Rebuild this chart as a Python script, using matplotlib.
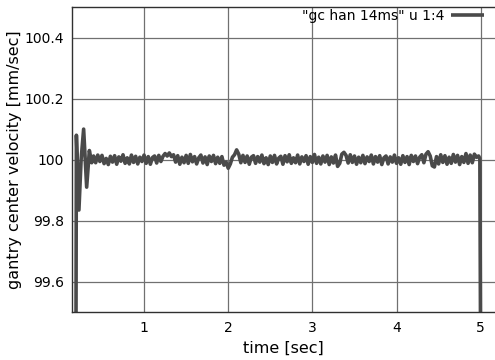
import matplotlib

matplotlib.use("Agg")

import matplotlib.pyplot as plt
import numpy as np

# start-up transient (sec, mm/sec)
start_t = [0.190, 0.196, 0.226, 0.252, 0.282, 0.318, 0.350, 0.378]
start_v = [99.30, 100.080, 99.835, 100.000, 100.100, 99.910, 100.030, 99.990]

# steady running: deviation from 100 mm/sec in 0.001 mm/sec,
# one reading every 25 ms starting at 0.40 s
steady_t0 = 0.40
steady_dt = 0.025
steady_dev = [
    12, -10, 15, -6, 14, -13, 4, -16, 11, -8, 13, -15, 9, -5, 16, -12, 6, -14, 15, -9,
    11, -14, 8, -6, 15, -12, 10, -15, 7, 12, -11, 14, -6, 11, 20, 12, 22, 10, 16, -8,
    13, -15, 8, -10, 14, -12, 17, -7, 10, -14, 6, 15, -11, 9, -16, 12, -6, 14, -13, 8,
    -12, 10, -18, -8, -28, -14, 8, 16, 32, 18, -10, 14, -9, 12, -15, 8, 13, -12, 10, -8,
    15, -13, 6, -16, 12, -9, 14, -14, 5, 11, -15, 13, -7, 16, -12, 6, -10, 15, -14, 9,
    -6, 13, -15, 10, -9, 17, -12, 8, -14, 12, -8, 14, -16, 9, -11, 15, -22, -12, 18, 24,
    14, -11, 16, -9, 12, -15, 8, -10, 14, -13, 9, -6, 15, -14, 10, -8, 13, -16, 6, 12,
    -14, 9, -8, 15, -12, 6, -15, 13, -9, 10, -16, 14, -6, 12, -13, 8, 16, -10, 18, 26,
    12, -20, -24, 10, -14, 16, -9, 13, -15, 8, -12, 17, -8, 14, -16, 10, -9, 20, -12, 15,
    -10, 18, 8, 12,
]

# stop at 5 s
stop_t = [4.990, 5.000]
stop_v = [100.004, 99.30]

x_ticks = [1, 2, 3, 4, 5]
y_ticks = [99.6, 99.8, 100.0, 100.2, 100.4]
y_tick_labels = ["99.6", "99.8", "100", "100.2", "100.4"]

LINE_COLOR = "#4a4a4a"
GRID_COLOR = "#707070"

steady_t = steady_t0 + steady_dt * np.arange(len(steady_dev))
steady_v = 100.0 + np.array(steady_dev) / 1000.0
t = np.concatenate([start_t, steady_t, stop_t])
v = np.concatenate([start_v, steady_v, stop_v])

plt.rcParams["font.family"] = ["DejaVu Sans"]

fig = plt.figure(figsize=(4.95, 3.6), dpi=100)
ax = fig.add_axes([0.146, 0.1325, 0.854, 0.848])

ax.plot(t, v, color=LINE_COLOR, lw=2.6, solid_joinstyle="round",
        solid_capstyle="butt", label='"gc han 14ms" u 1:4')

ax.set_xlim(0.147, 5.17)
ax.set_ylim(99.5, 100.5)
ax.set_xticks(x_ticks)
ax.set_xticklabels([str(x) for x in x_ticks])
ax.set_yticks(y_ticks)
ax.set_yticklabels(y_tick_labels)
ax.grid(True, color=GRID_COLOR, lw=0.9)
ax.set_axisbelow(True)
ax.tick_params(length=0, labelsize=10, colors="black")
ax.tick_params(axis="y", pad=6)
ax.tick_params(axis="x", pad=6)

for side in ("left", "bottom", "top"):
    ax.spines[side].set_color("#303030")
    ax.spines[side].set_linewidth(1.0)
ax.spines["right"].set_visible(False)

ax.set_xlabel("time [sec]", fontsize=11.5, va="center")
ax.xaxis.set_label_coords(0.5, -0.118)
ax.set_ylabel("gantry center velocity [mm/sec]", fontsize=11.5, va="center")
ax.yaxis.set_label_coords(-0.136, 0.5)

ax.legend(loc="upper right", bbox_to_anchor=(0.975, 0.995), frameon=False,
          markerfirst=False, borderaxespad=0, borderpad=0, fontsize=10,
          handlelength=2.4, handletextpad=0.5)

fig.savefig("out.png", dpi=100)
